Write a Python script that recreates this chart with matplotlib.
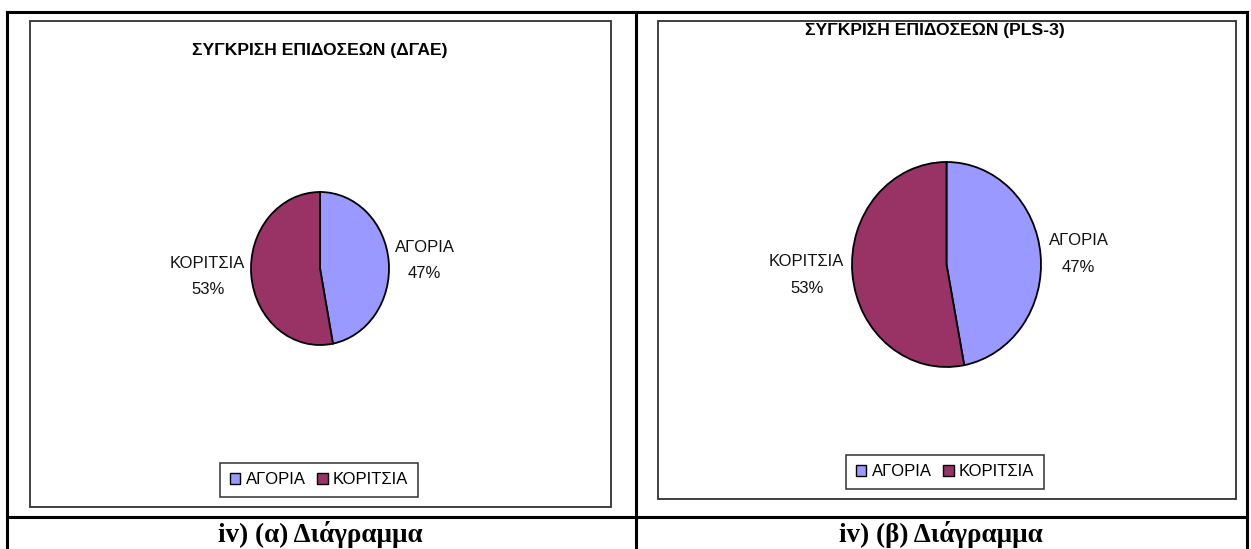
import matplotlib
matplotlib.use("Agg")
import matplotlib.pyplot as plt
from matplotlib.patches import Rectangle, Patch
from matplotlib.lines import Line2D
import numpy as np

plt.rcParams['font.family'] = ['Liberation Sans', 'DejaVu Sans']

# ---- data ----
categories = ["ΑΓΟΡΙΑ", "ΚΟΡΙΤΣΙΑ"]
values_a = [47, 53]
values_b = [47, 53]
colors = ["#9999FF", "#993366"]
title_a = "ΣΥΓΚΡΙΣΗ ΕΠΙΔΟΣΕΩΝ (ΔΓΑΕ)"
title_b = "ΣΥΓΚΡΙΣΗ ΕΠΙΔΟΣΕΩΝ (PLS-3)"
caption_a = "iv) (α) Διάγραμμα"
caption_b = "iv) (β) Διάγραμμα"

W, H = 1251, 549
fig = plt.figure(figsize=(W / 100, H / 100), dpi=100)
fig.patch.set_facecolor("white")


def fx(x):
    return x / W


def fy(y):
    return 1 - y / H


def box(x0, y0, x1, y1):
    return [fx(x0), fy(y1), (x1 - x0) / W, (y1 - y0) / H]


# ---- table lines ----
tl = dict(color="black", linewidth=2.2, transform=fig.transFigure)
fig.add_artist(Line2D([fx(7), fx(1247)], [fy(12), fy(12)], **tl))
fig.add_artist(Line2D([fx(7), fx(1247)], [fy(517), fy(517)], **tl))
fig.add_artist(Line2D([fx(7), fx(7)], [fy(12), fy(549)], **tl))
fig.add_artist(Line2D([fx(636), fx(636)], [fy(12), fy(549)], **tl))
fig.add_artist(Line2D([fx(1247), fx(1247)], [fy(12), fy(549)], **tl))

# ---- chart frames ----
for (x0, y0, x1, y1) in [(30, 21, 611, 507), (658, 21, 1236, 499)]:
    fig.add_artist(Rectangle((fx(x0), fy(y1)), (x1 - x0) / W, (y1 - y0) / H,
                             transform=fig.transFigure, fill=False,
                             edgecolor="#303030", linewidth=1.3))


def draw_pie(ellipse_box, values, title, title_xy, legend_xy, caption, caption_x, label_fs=12):
    ax = fig.add_axes(box(*ellipse_box))
    wedges, _ = ax.pie(values, colors=colors, startangle=90, counterclock=False,
                       radius=1.0, wedgeprops=dict(edgecolor="black", linewidth=1.3))
    ax.set_aspect("auto")
    ax.set_xlim(-1, 1)
    ax.set_ylim(-1, 1)
    ax.axis("off")
    total = sum(values)
    for w, lab, v in zip(wedges, categories, values):
        ang = np.deg2rad((w.theta1 + w.theta2) / 2)
        c, s = np.cos(ang), np.sin(ang)
        x = 1.08 * np.sign(c)
        y = 1.1 * s
        ax.text(x, y, f"{lab}\n{round(100 * v / total)}%",
                ha="left" if c > 0 else "right", va="center",
                multialignment="center", fontsize=label_fs, linespacing=1.95,
                color="#111111", clip_on=False)
    fig.text(fx(title_xy[0]), fy(title_xy[1]), title, ha="center", va="center",
             fontsize=12.6, fontweight="bold", color="black")
    handles = [Patch(facecolor=col, edgecolor="black", linewidth=1.0) for col in colors]
    fig.legend(handles, categories, loc="center",
               bbox_to_anchor=(fx(legend_xy[0]), fy(legend_xy[1])),
               ncol=2, frameon=True, fancybox=False, edgecolor="#303030",
               framealpha=1, fontsize=12, handlelength=0.65, handleheight=0.65,
               handletextpad=0.3, columnspacing=0.7, borderpad=0.55,
               borderaxespad=0).get_frame().set_linewidth(1.1)
    fig.text(fx(caption_x), fy(541.5), caption, ha="center", va="baseline",
             fontsize=19.5, fontweight="bold", family=["Liberation Serif", "DejaVu Serif"])


draw_pie((251, 192, 389, 345), values_a, title_a, (320, 50), (319, 480), caption_a, 320)
draw_pie((852, 162, 1041, 367), values_b, title_b, (935, 31), (945, 472), caption_b, 941)

fig.savefig("out.png", dpi=100, facecolor="white")
